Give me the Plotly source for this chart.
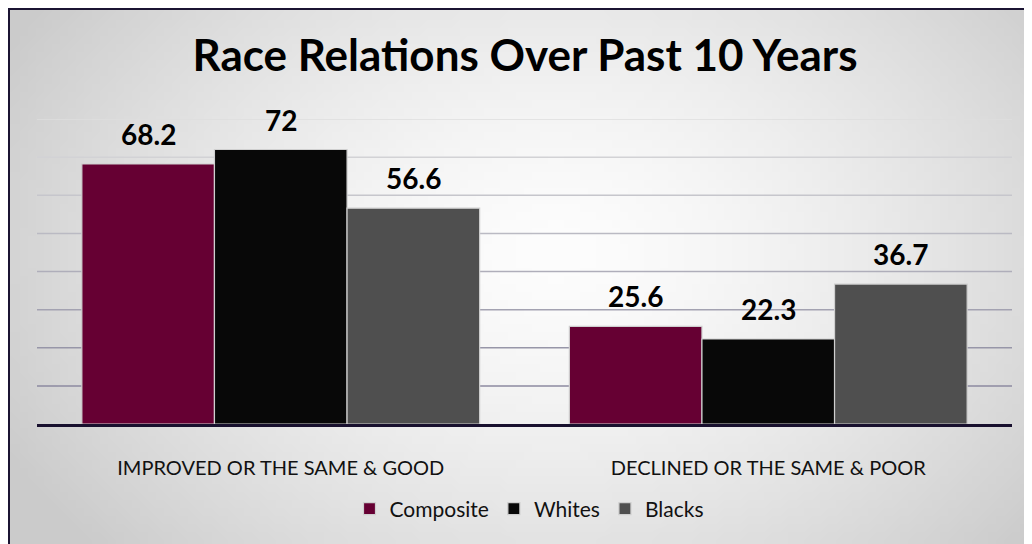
import base64, struct, zlib
import plotly.graph_objects as go

categories = ["IMPROVED OR THE SAME &amp; GOOD", "DECLINED OR THE SAME &amp; POOR"]
series_names = ["Composite", "Whites", "Blacks"]
composite = [68.2, 25.6]
whites = [72, 22.3]
blacks = [56.6, 36.7]
grid_values = [10, 20, 30, 40, 50, 60, 70, 80]
title_text = "Race Relations Over Past 10 Years"

colors = ["#660033", "#080808", "#4f4f4f"]
# page has an 8px body margin; figure fills the rest of the 1032x544 window
W, H = 1024, 536
ML, MT = 29, 111
PW, PH = 975, 305
MR, MB = W - ML - PW, H - MT - PH
BARGAP = 0.184
FONT = "Lato"


def png_gradient(w, h):
    cx, cy, rx, ry = 68, 30, 78, 56
    rows = []
    for j in range(h):
        row = bytearray([0])
        for i in range(w):
            d = (((i - cx) / rx) ** 2 + ((j - cy) / ry) ** 2) ** 0.5
            d = min(d, 1.0)
            row.append(int(253 - 50 * d ** 1.5))
        rows.append(bytes(row))
    raw = b"".join(rows)

    def chunk(t, data):
        c = struct.pack(">I", len(data)) + t + data
        return c + struct.pack(">I", zlib.crc32(t + data) & 0xFFFFFFFF)

    png = b"\x89PNG\r\n\x1a\n"
    png += chunk(b"IHDR", struct.pack(">IIBBBBB", w, h, 8, 0, 0, 0, 0))
    png += chunk(b"IDAT", zlib.compress(raw, 9))
    png += chunk(b"IEND", b"")
    return "data:image/png;base64," + base64.b64encode(png).decode()


fig = go.Figure()
all_vals = [composite, whites, blacks]
for name, vals, col in zip(series_names, all_vals, colors):
    fig.add_trace(go.Bar(
        name=name, x=categories, y=vals,
        marker=dict(color=col, line=dict(color="#cfcfcf", width=1.2)),
        hoverinfo="skip",
    ))

bar_px = PW * (1 - BARGAP) / len(categories) / len(series_names)
annotations = []
for i, vals in enumerate(all_vals):
    for cat, v in zip(categories, vals):
        annotations.append(dict(
            x=cat, y=v, xref="x", yref="y", text=f"<b>{v:g}</b>",
            showarrow=False, xshift=(i - 1) * bar_px, yshift=30,
            yanchor="middle", font=dict(family=FONT, size=28, color="#000000"),
        ))

shapes = []
n = len(grid_values)
for k, g in enumerate(grid_values):
    t = k / (n - 1)
    r = int(140 + (222 - 140) * t)
    gg = int(138 + (222 - 138) * t)
    b = int(160 + (222 - 160) * t)
    shapes.append(dict(type="line", xref="paper", yref="y", x0=0, x1=1, y0=g, y1=g,
                       line=dict(color=f"rgb({r},{gg},{b})", width=1.5), layer="below"))
# frame (top and left edges of the chart)
fx = 1 / PW
fy = 1 / PH
shapes.append(dict(type="line", xref="paper", yref="paper",
                   x0=-ML / PW, x1=(W - ML) / PW, y0=1 + (MT - 1) / PH, y1=1 + (MT - 1) / PH,
                   line=dict(color="#1b1433", width=2)))
shapes.append(dict(type="line", xref="paper", yref="paper",
                   x0=(1 - ML) / PW, x1=(1 - ML) / PW, y0=1 + MT / PH, y1=-MB / PH,
                   line=dict(color="#1b1433", width=2)))

fig.update_layout(
    width=W, height=H,
    margin=dict(l=ML, r=MR, t=MT, b=MB),
    paper_bgcolor="#e0e0e0",
    plot_bgcolor="rgba(0,0,0,0)",
    barmode="group", bargap=BARGAP, bargroupgap=0,
    title=dict(text=f"<b>{title_text}</b>", x=(525 - 8 - ML) / PW, xref="paper", xanchor="center",
               y=1 - 48 / H, yanchor="middle",
               font=dict(family=FONT, size=44, color="#000000")),
    font=dict(family=FONT, color="#000000"),
    xaxis=dict(showline=True, linecolor="#18102e", linewidth=3, ticks="", showgrid=False,
               tickfont=dict(family=FONT, size=20, color="#111111"), ticklabelstandoff=24),
    yaxis=dict(range=[0, 80], showgrid=False, showticklabels=False, zeroline=False, fixedrange=True),
    legend=dict(orientation="h", x=(529 - 8 - ML) / PW, xanchor="center",
                y=(PH - (509 - 8 - MT)) / PH, yanchor="middle",
                font=dict(family=FONT, size=21, color="#111111"), bgcolor="rgba(0,0,0,0)",
                itemclick=False, traceorder="normal"),
    showlegend=True,
    annotations=annotations,
    shapes=shapes,
    images=[dict(source=png_gradient(128, 67), xref="paper", yref="paper",
                 x=-ML / PW, y=1 + MT / PH, sizex=W / PW, sizey=H / PH,
                 xanchor="left", yanchor="top", sizing="stretch", layer="below")],
)

fig.write_html("out.html")
